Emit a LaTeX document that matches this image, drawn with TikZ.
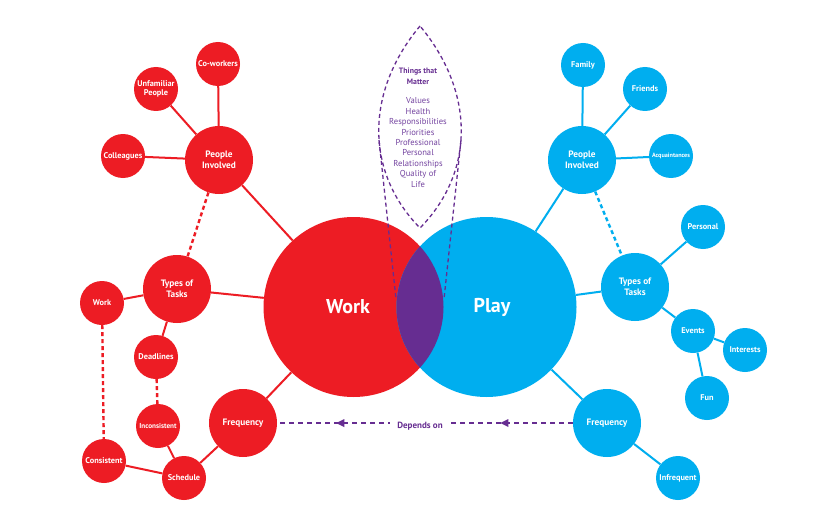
\documentclass[tikz,border=0pt]{standalone}
\usepackage{fontspec}
\setmainfont{PT Sans}
\usetikzlibrary{decorations.markings,arrows.meta}
\definecolor{wred}{HTML}{ED1C24}
\definecolor{pblue}{HTML}{00AEEF}
\definecolor{mpurple}{HTML}{662D91}
\definecolor{lpurple}{HTML}{7444A0}
\tikzset{
  bubble/.style={circle,inner sep=0pt,text=white,font=\bfseries\fontsize{8.3}{9.5}\selectfont,align=center},
  small/.style={bubble,minimum size=44pt},
  mid/.style={bubble,minimum size=68pt,font=\bfseries\fontsize{9.3}{11}\selectfont},
  rednode/.style={fill=wred},
  bluenode/.style={fill=pblue},
  redline/.style={draw=wred,line width=2pt},
  blueline/.style={draw=pblue,line width=2pt},
  reddash/.style={draw=wred,line width=2.4pt,dash pattern=on 4pt off 3pt},
  bluedash/.style={draw=pblue,line width=2.4pt,dash pattern=on 4pt off 3pt},
  lensline/.style={draw=mpurple,line width=1.3pt,dash pattern=on 4pt off 3pt},
}
\begin{document}
\begin{tikzpicture}[x=1pt,y=-1pt]
\useasboundingbox[fill=white] (0,0) rectangle (840,524);
% big circles
\node[circle,fill=wred,minimum size=180pt,inner sep=0pt] (work) at (353.5,307) {};
\node[circle,fill=pblue,minimum size=180pt,inner sep=0pt] (play) at (486.5,307) {};
\begin{scope}
  \clip (353.5,307) circle (90pt);
  \fill[mpurple] (486.5,307) circle (90pt);
\end{scope}
\node[text=white,font=\bfseries\fontsize{20}{22}\selectfont] (worktxt) at (348,307) {Work};
\node[text=white,font=\bfseries\fontsize{20}{22}\selectfont] (playtxt) at (492,307) {Play};

% red nodes
\node[mid,rednode] (rpi) at (219,160) {People\\Involved};
\node[small,rednode] (rcow) at (218,64) {Co-workers};
\node[small,rednode] (runf) at (156,89) {Unfamiliar\\People};
\node[small,rednode] (rcol) at (123,156) {Colleagues};
\node[mid,rednode] (rtot) at (177,289) {Types of\\Tasks};
\node[small,rednode] (rwrk) at (102,303) {Work};
\node[small,rednode] (rdead) at (156,357) {Deadlines};
\node[small,rednode,font=\bfseries\fontsize{7.2}{8}\selectfont] (rinc) at (158,426) {Inconsistent};
\node[mid,rednode] (rfreq) at (243,423) {Frequency};
\node[small,rednode] (rcons) at (104,461) {Consistent};
\node[small,rednode] (rsch) at (184,478) {Schedule};

% blue nodes
\node[mid,bluenode] (bpi) at (582,160) {People\\Involved};
\node[small,bluenode] (bfam) at (583,65) {Family};
\node[small,bluenode] (bfri) at (645,89) {Friends};
\node[small,bluenode,font=\bfseries\fontsize{6.2}{7}\selectfont] (bacq) at (671,156) {Acquaintances};
\node[mid,bluenode] (btot) at (635,287) {Types of\\Tasks};
\node[small,bluenode] (bper) at (703,227) {Personal};
\node[small,bluenode] (bev) at (693,331) {Events};
\node[small,bluenode] (bint) at (745,350) {Interests};
\node[small,bluenode] (bfun) at (707,398) {Fun};
\node[mid,bluenode] (bfreq) at (607,423) {Frequency};
\node[small,bluenode] (binf) at (678,478) {Infrequent};

% red connectors
\draw[redline] (rpi) -- (rcow);
\draw[redline] (rpi) -- (runf);
\draw[redline] (rpi) -- (rcol);
\draw[redline] (rpi) -- (work);
\draw[reddash] (rpi) -- (rtot);
\draw[redline] (rtot) -- (rwrk);
\draw[redline] (rtot) -- (work);
\draw[redline] (rtot) -- (rdead);
\draw[reddash] (rdead) -- (rinc);
\draw[reddash] (rwrk) -- (rcons);
\draw[redline] (rinc) -- (rsch);
\draw[redline] (rcons) -- (rsch);
\draw[redline] (rsch) -- (rfreq);
\draw[redline] (rfreq) -- (work);

% blue connectors
\draw[blueline] (bpi) -- (bfam);
\draw[blueline] (bpi) -- (bfri);
\draw[blueline] (bpi) -- (bacq);
\draw[blueline] (bpi) -- (play);
\draw[bluedash] (bpi) -- (btot);
\draw[blueline] (btot) -- (bper);
\draw[blueline] (btot) -- (play);
\draw[blueline] (btot) -- (bev);
\draw[blueline] (bev) -- (bint);
\draw[blueline] (bev) -- (bfun);
\draw[blueline] (bfreq) -- (play);
\draw[blueline] (bfreq) -- (binf);

% depends on
\draw[draw=mpurple,line width=2.2pt,dash pattern=on 5pt off 4pt,
  postaction={decorate},
  decoration={markings,
    mark=at position 0.23 with {\fill[mpurple] (4.5pt,0) -- (-3.5pt,-4pt) -- (-3.5pt,4pt) -- cycle;},
    mark=at position 0.785 with {\fill[mpurple] (4.5pt,0) -- (-3.5pt,-4pt) -- (-3.5pt,4pt) -- cycle;}}]
  (bfreq) -- (rfreq);
\node[fill=white,inner xsep=7pt,inner ysep=2pt,text=mpurple,font=\bfseries\fontsize{9}{10}\selectfont] (dep) at (420,426) {Depends on};

% things that matter lens
\coordinate (ltop) at (420,26);
\coordinate (lbot) at (420,228);
\coordinate (lleft) at (396,299);
\coordinate (lright) at (444,299);
\draw[lensline] (ltop) .. controls (365,92) and (365,172) .. (lbot)
  .. controls (475,172) and (475,92) .. (ltop);
\draw[lensline] (379,140) -- (lleft);
\draw[lensline] (461,140) -- (lright);
\node[text=mpurple,font=\bfseries\fontsize{7.8}{10.5}\selectfont,align=center] (ttm) at (418,76.5) {Things that\\Matter};
\node[text=lpurple,font=\fontsize{8.6}{10.4}\selectfont,align=center] (ttmlist) at (418,142.5) {Values\\Health\\Responsibilities\\Priorities\\Professional\\Personal\\Relationships\\Quality of\\Life};
\end{tikzpicture}
\end{document}
